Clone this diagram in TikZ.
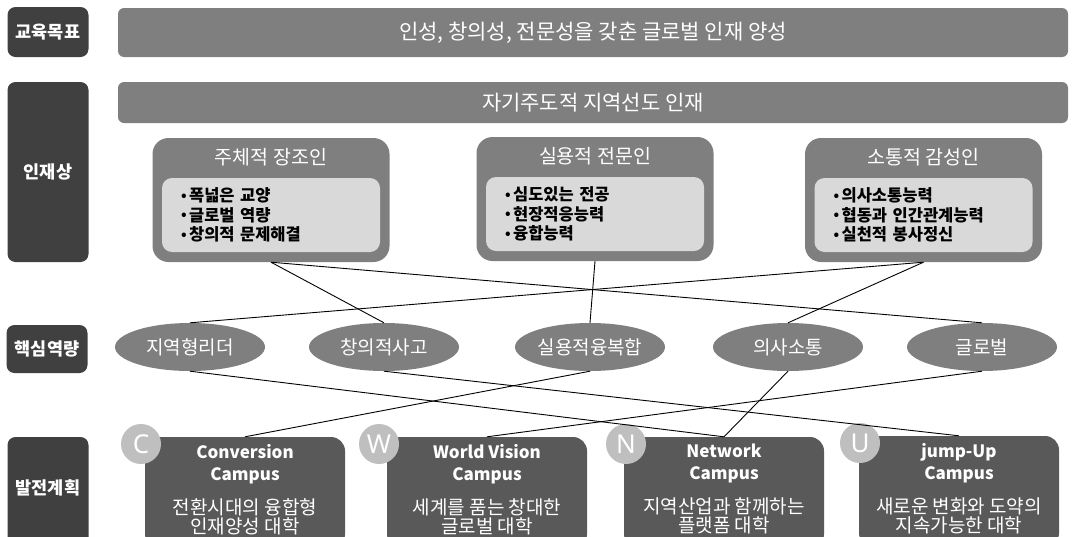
\documentclass[tikz,border=0pt]{standalone}
\usepackage{fontspec}
\setmainfont{Noto Sans CJK KR}
\newfontfamily\letterfont{Noto Sans}
\usetikzlibrary{shapes.geometric}
\definecolor{labgray}{HTML}{404040}
\definecolor{midgray}{HTML}{7F7F7F}
\definecolor{palegray}{HTML}{D9D9D9}
\definecolor{campgray}{HTML}{595959}
\definecolor{badgegray}{HTML}{BFBFBF}
\newcommand{\itm}{\raisebox{1.2pt}{\fontsize{14}{14}\selectfont •}\hspace{2.5pt}}
\newcommand{\descfont}{\fontsize{19}{19}\selectfont}
\begin{document}
\begin{tikzpicture}[x=1pt,y=-1pt,
  labbox/.style={fill=labgray, rounded corners=8pt, text=white, font=\fontsize{17.5}{18}\selectfont\bfseries, minimum width=81pt, inner sep=0pt},
  bar/.style={fill=midgray, rounded corners=6pt, text=white, font=\fontsize{21}{22}\selectfont, minimum width=950pt, inner sep=0pt},
  persona/.style={fill=midgray, rounded corners=16pt, minimum width=237pt, minimum height=124pt, inner sep=0pt},
  itembox/.style={fill=palegray, rounded corners=10pt, minimum width=218pt, minimum height=74pt, inner sep=0pt, text width=180pt, align=left, font=\fontsize{16.5}{19.5}\selectfont\bfseries},
  ptitle/.style={text=white, inner sep=0pt, font=\fontsize{19.5}{20}\selectfont},
  comp/.style={ellipse, fill=midgray, minimum width=150pt, minimum height=48pt, inner sep=0pt, text=white, font=\fontsize{19}{20}\selectfont},
  campus/.style={fill=campgray, rounded corners=14pt, minimum width=200pt, minimum height=111pt, inner sep=0pt},
  camptext/.style={text=white, align=center, inner sep=0pt, font=\fontsize{17}{22}\selectfont, anchor=north},
  badge/.style={circle, fill=badgegray, minimum size=40pt, inner sep=0pt, text=white, font=\letterfont\fontsize{26}{26}\selectfont},
  link/.style={draw=black, line width=0.9pt}
]
\useasboundingbox (0,0) rectangle (1077,536);

% row labels
\node[labbox, minimum height=50pt] (l1) at (48,32) {교육목표};
\node[labbox, minimum height=180pt] (l2) at (48,172) {인재상};
\node[labbox, minimum height=48pt] (l3) at (47,349) {핵심역량};
\node[labbox, minimum height=111pt, text height=15.4pt, text depth=11pt] (l4) at (48,492.5) {발전계획};

% bars
\node[bar, minimum height=49pt] (goal) at (593,32.5) {인성, 창의성, 전문성을 갖춘 글로벌 인재 양성};
\node[bar, minimum height=41pt] (ideal) at (593,102.5) {자기주도적 지역선도 인재};

% persona boxes
\node[persona] (p1) at (271,200) {};
\node[persona] (p2) at (595,199) {};
\node[persona] (p3) at (923.5,200) {};
\node[ptitle] (t1) at (271,157) {주체적 장조인};
\node[ptitle] (t2) at (595,156) {실용적 전문인};
\node[ptitle] (t3) at (923.5,157) {소통적 감성인};
\node[itembox] (i1) at (271,215) {\itm 폭넓은 교양\\\itm 글로벌 역량\\\itm 창의적 문제해결};
\node[itembox] (i2) at (595,214) {\itm 심도있는 전공\\\itm 현장적응능력\\\itm 융합능력};
\node[itembox] (i3) at (923.5,215) {\itm 의사소통능력\\\itm 협동과 인간관계능력\\\itm 실천적 봉사정신};

% competencies
\node[comp] (e1) at (190,347) {지역형리더};
\node[comp] (e2) at (384,347) {창의적사고};
\node[comp] (e3) at (590,347) {실용적융복합};
\node[comp] (e4) at (788,347) {의사소통};
\node[comp] (e5) at (982,347) {글로벌};

% campuses (boxes, running past the lower edge)
\node[campus] (cC) at (245,492.5) {};
\node[campus] (cW) at (487,492.5) {};
\node[campus] (cN) at (724,492.5) {};
\node[campus] (cU) at (959,491.5) {};
% campus texts
\node[camptext] (xC) at (245,444) {\textbf{Conversion}\\\textbf{Campus}\\[12pt]{\descfont 전환시대의 융합형}\\[-3pt]{\descfont 인재양성 대학}};
\node[camptext] (xW) at (487,444) {\textbf{World Vision}\\\textbf{Campus}\\[12pt]{\descfont 세계를 품는 창대한}\\[-3pt]{\descfont 글로벌 대학}};
\node[camptext] (xN) at (724,444) {\textbf{Network}\\\textbf{Campus}\\[12pt]{\descfont 지역산업과 함께하는}\\[-3pt]{\descfont 플랫폼 대학}};
\node[camptext] (xU) at (959,443) {\textbf{jump-Up}\\\textbf{Campus}\\[12pt]{\descfont 새로운 변화와 도약의}\\[-3pt]{\descfont 지속가능한 대학}};
\node[badge] (bC) at (141,444) {C};
\node[badge] (bW) at (379,444) {W};
\node[badge] (bN) at (626,444) {N};
\node[badge] (bU) at (860,443) {U};

% connectors
\draw[link] (p1.south) -- (e2.north);
\draw[link] (p1.south) -- (e5.north);
\draw[link] (p2.south) -- (e3.north);
\draw[link] (p3.south) -- (e4.north);
\draw[link] (p3.south) -- (e1.north);
\draw[link] (e1.south) -- (cN.north);
\draw[link] (e2.south) -- (cU.north);
\draw[link] (e3.south) -- (cC.north);
\draw[link] (e4.south) -- (cN.north);
\draw[link] (e5.south) -- (cW.north);
\end{tikzpicture}
\end{document}
